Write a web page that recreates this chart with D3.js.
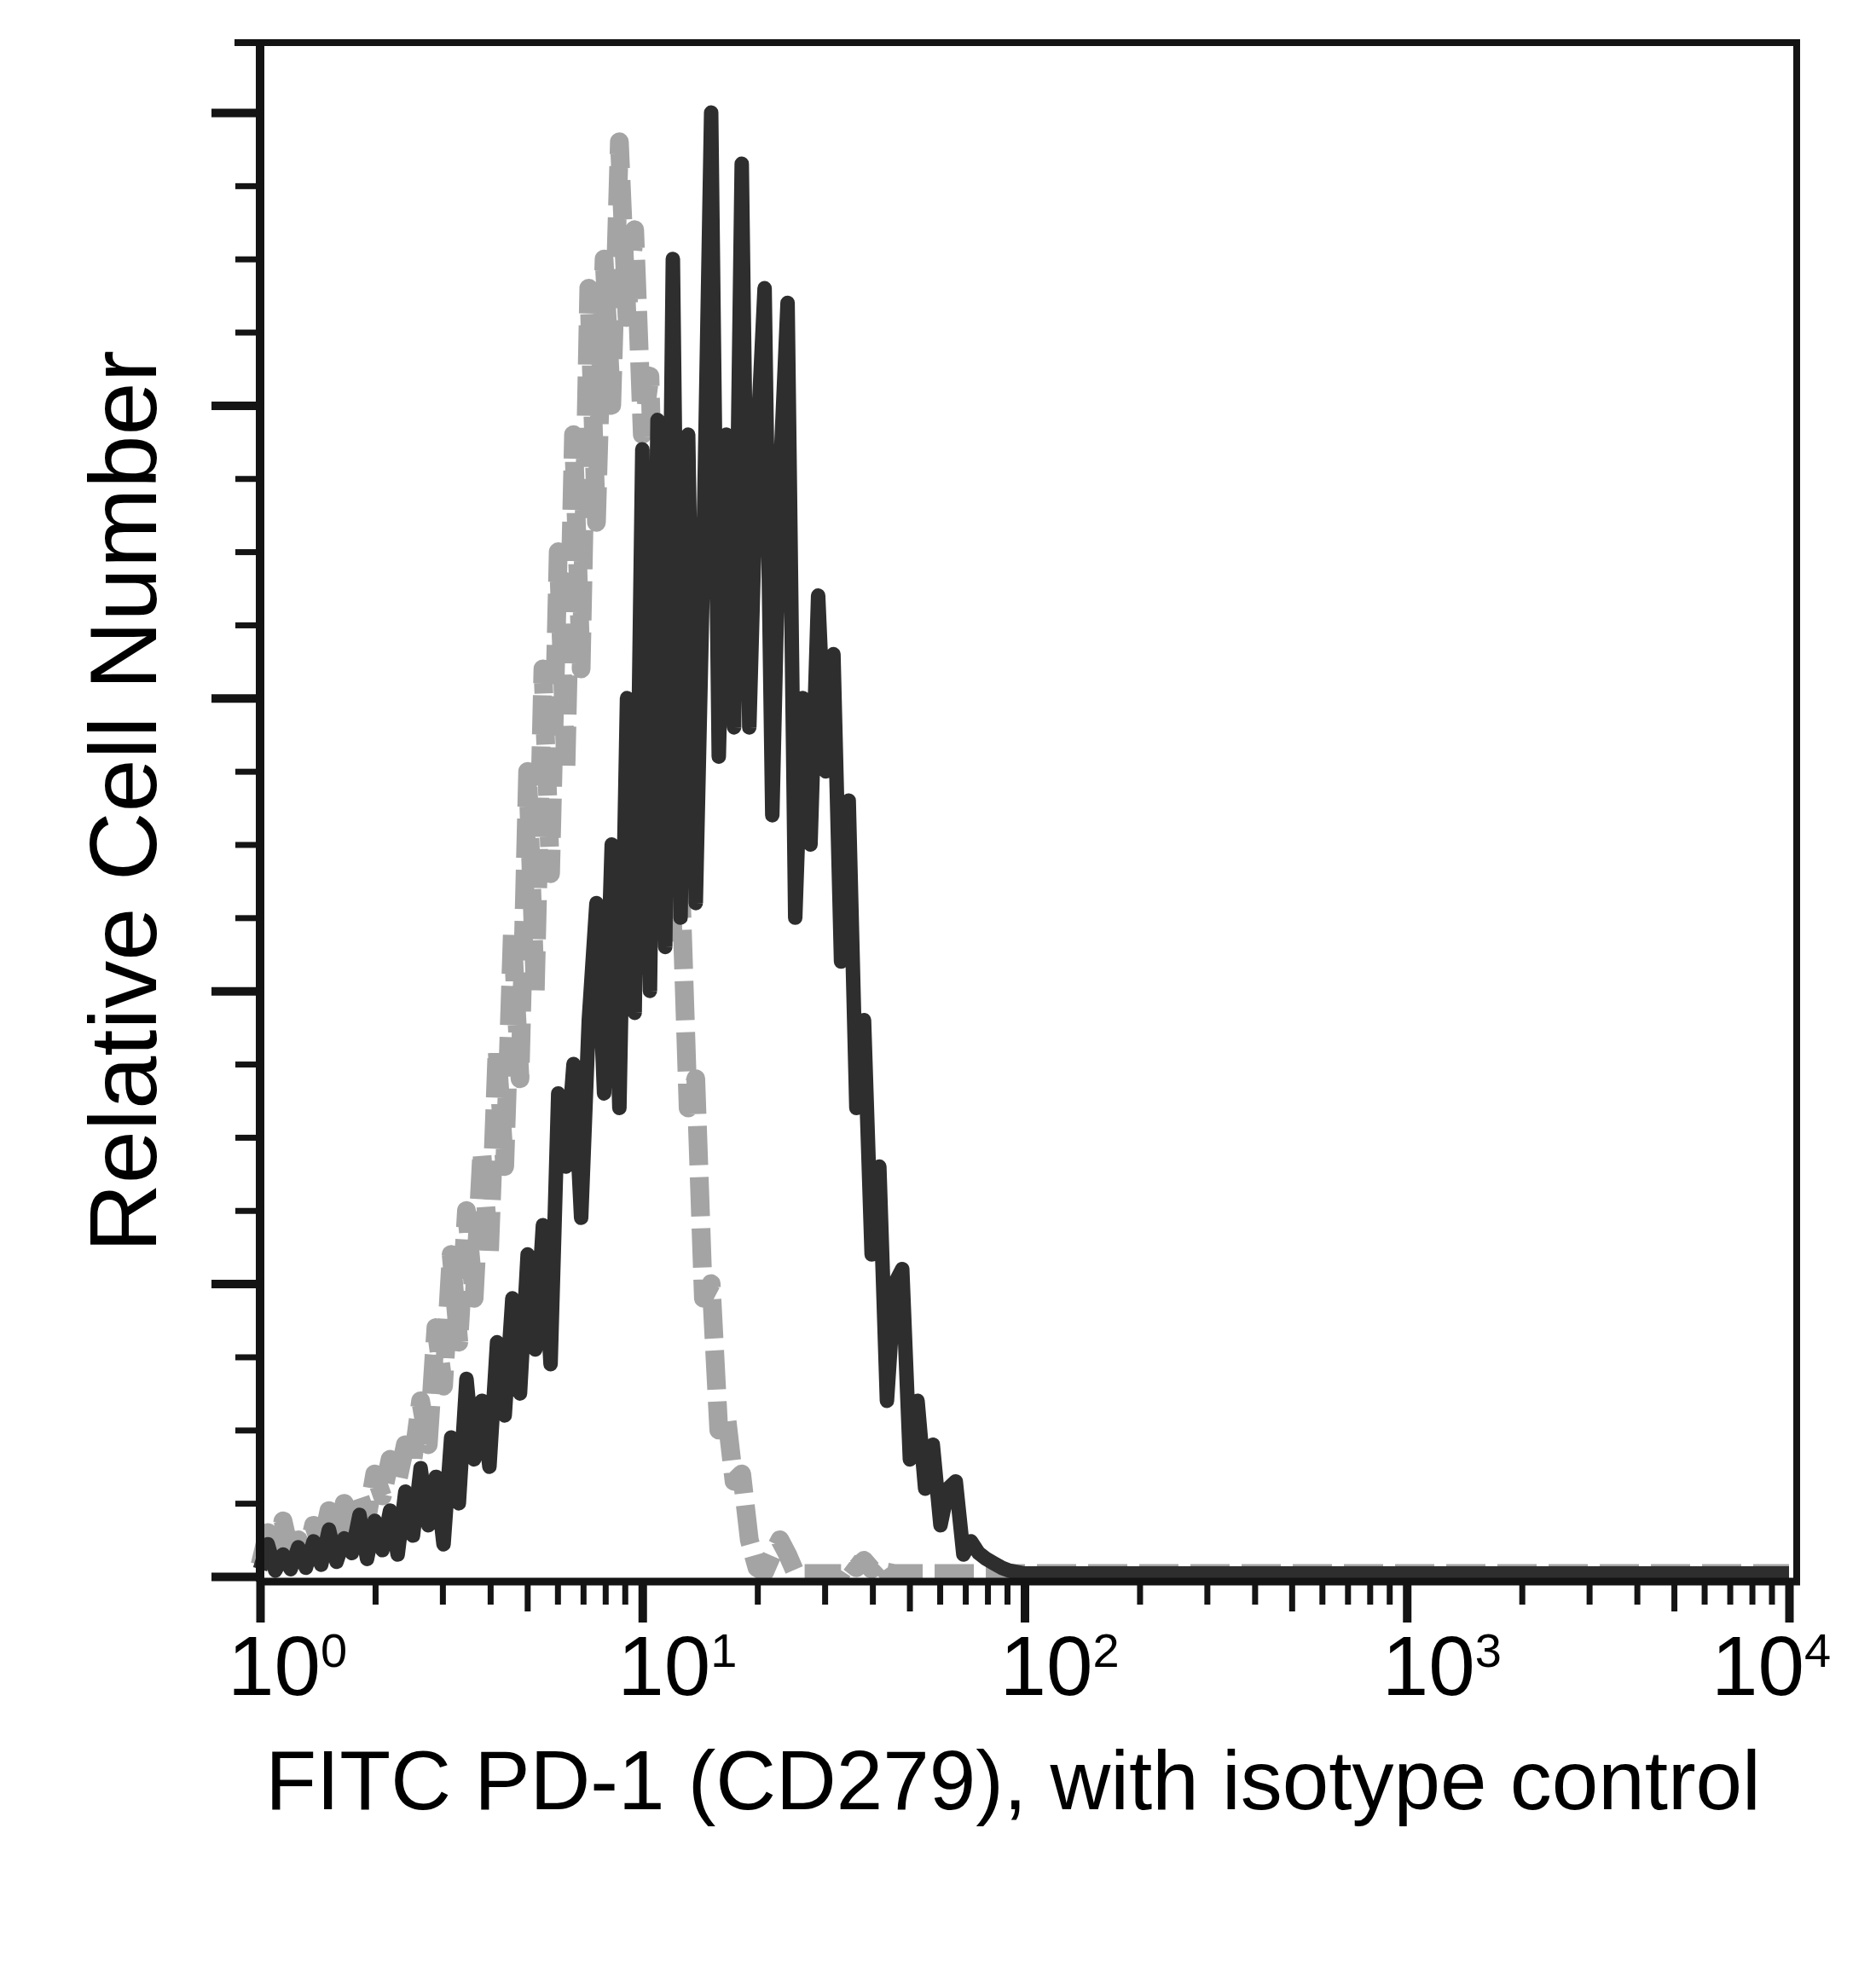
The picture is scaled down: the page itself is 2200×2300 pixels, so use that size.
<!DOCTYPE html>
<html>
<head>
<meta charset="utf-8">
<script src="https://cdn.jsdelivr.net/npm/d3@7"></script>
<style>
    body { margin: 0; background: #fff; }
    text { font-family: 'Liberation Sans', Arial, Helvetica, sans-serif; fill: #000; }
</style>
</head>
<body>
<svg id="chart" width="2200" height="2300"></svg>
<script>
// fluorescence intensity (channel centres, log spaced) shared by both histograms
var intensity = [
    1, 1.047, 1.096, 1.148, 1.202, 1.259, 1.318, 1.380, 1.445, 1.514,
    1.585, 1.660, 1.738, 1.820, 1.905, 1.995, 2.089, 2.188, 2.291, 2.399,
    2.512, 2.630, 2.754, 2.884, 3.020, 3.162, 3.311, 3.467, 3.631, 3.802,
    3.981, 4.169, 4.365, 4.571, 4.786, 5.012, 5.248, 5.495, 5.754, 6.026,
    6.310, 6.607, 6.918, 7.244, 7.586, 7.943, 8.318, 8.710, 9.120, 9.550,
    10, 10.47, 10.96, 11.48, 12.02, 12.59, 13.18, 13.80, 14.45, 15.14,
    15.85, 16.60, 17.38, 18.20, 19.05, 19.95, 20.89, 21.88, 22.91, 23.99,
    25.12, 26.30, 27.54, 28.84, 30.20, 31.62, 33.11, 34.67, 36.31, 38.02,
    39.81, 41.69, 43.65, 45.71, 47.86, 50.12, 52.48, 54.95, 57.54, 60.26,
    63.10, 66.07, 69.18, 72.44, 75.86, 79.43, 83.18, 87.10, 91.20, 95.50,
    100, 10000
];

// PD-1 (CD279) stained cells, relative counts
var pd1Counts = [
    0.5, 2.2, 0.4, 1.5, 0.5, 2.0, 0.6, 2.4, 0.8, 3.2,
    1.0, 2.6, 1.6, 4.2, 1.2, 3.8, 1.8, 4.5, 1.5, 5.8,
    2.8, 7.4, 3.5, 6.8, 2.2, 9.5, 5.0, 13.5, 8.0, 12.0,
    7.5, 16.0, 11.0, 19.0, 12.5, 22.0, 15.5, 24.0, 14.5, 33.0,
    28.0, 35.0, 24.5, 38.0, 46.0, 33.0, 50.0, 32.0, 60.0, 38.5,
    77.0, 40.0, 79.0, 43.0, 90.0, 45.0, 78.0, 46.0, 70.0, 100.0,
    56.0, 78.0, 58.0, 96.5, 58.0, 77.0, 88.0, 52.0, 75.0, 87.0,
    45.0, 60.0, 50.0, 67.0, 55.0, 63.0, 42.0, 53.0, 32.0, 38.0,
    22.0, 28.0, 12.0, 20.0, 21.0, 8.0, 12.0, 6.0, 9.0, 3.5,
    6.0, 6.5, 1.5, 2.4, 1.6, 1.2, 0.9, 0.6, 0.4, 0.3,
    0.2, 0.2
];

// isotype control, relative counts
var isotypeCounts = [
    0.8, 3.0, 1.0, 3.8, 1.5, 2.5, 1.2, 3.5, 2.0, 4.5,
    2.5, 5.0, 3.0, 5.5, 4.0, 7.0, 5.5, 8.0, 6.5, 9.0,
    8.0, 12.0, 9.0, 17.0, 13.0, 22.0, 16.0, 25.0, 19.0, 29.0,
    22.0, 36.0, 28.0, 44.0, 34.0, 55.0, 40.0, 62.0, 48.0, 70.0,
    55.0, 78.0, 62.0, 88.0, 72.0, 90.0, 80.0, 98.0, 86.0, 92.0,
    78.0, 82.0, 62.0, 66.0, 44.0, 48.0, 32.0, 34.0, 19.0, 20.0,
    10.0, 11.0, 6.5, 7.0, 2.5, 0.6, 0.3, 1.5, 2.5, 1.5,
    0.3, 0.2, 0.2, 0.2, 0.2, 0.2, 0.2, 1.0, 0.6, 1.1,
    0.5, 1.0, 0.3, 0.2, 0.2, 0.2, 0.2, 0.2, 0.2, 0.2,
    0.2, 0.2, 0.2, 0.2, 0.2, 0.2, 0.2, 0.2, 0.2, 0.2,
    0.2, 0.2
];

var xMajorTicks = [1, 10, 100, 1000, 10000];
var xMidTicks = [5, 50, 500, 5000];
var xMinorTicks = [2, 3, 4, 6, 7, 8, 9, 20, 30, 40, 60, 70, 80, 90,
    200, 300, 400, 600, 700, 800, 900, 2000, 3000, 4000, 6000, 7000, 8000, 9000];
var xTickExponents = ['0', '1', '2', '3', '4'];
var yMajorTicks = [0, 20, 40, 60, 80, 100];
var yMinorTicks = [5, 10, 15, 25, 30, 35, 45, 50, 55, 65, 70, 75, 85, 90, 95];

var xTitle = 'FITC PD-1 (CD279), with isotype control';
var yTitle = 'Relative Cell Number';

var svg = d3.select('#chart');
var axisColor = '#141414';

var x = d3.scaleLog().domain([1, 10000]).range([305, 2098]);
var y = d3.scaleLinear().domain([0, 100]).range([1849, 132]);

var frame = {left: 305, right: 2107, top: 50, bottom: 1855};

svg.append('rect').attr('width', 2200).attr('height', 2300).attr('fill', '#fff');

// histograms
function toPoints(counts) {
    return intensity.map(function (v, i) { return [v, counts[i]]; });
}

var line = d3.line()
    .x(function (d) { return x(d[0]); })
    .y(function (d) { return y(d[1]); });

svg.append('path')
    .datum(toPoints(isotypeCounts))
    .attr('fill', 'none')
    .attr('stroke', '#a4a4a4')
    .attr('stroke-width', 22)
    .attr('stroke-linejoin', 'round')
    .attr('stroke-dasharray', '46 14')
    .attr('d', line);

svg.append('path')
    .datum(toPoints(pd1Counts))
    .attr('fill', 'none')
    .attr('stroke', '#2e2e2e')
    .attr('stroke-width', 17)
    .attr('stroke-linejoin', 'round')
    .attr('d', line);

// frame
svg.append('line').attr('x1', 275).attr('x2', frame.right + 4)
    .attr('y1', frame.top).attr('y2', frame.top)
    .attr('stroke', axisColor).attr('stroke-width', 8);
svg.append('line').attr('x1', frame.right).attr('x2', frame.right)
    .attr('y1', frame.top).attr('y2', frame.bottom)
    .attr('stroke', axisColor).attr('stroke-width', 8);
svg.append('line').attr('x1', frame.left).attr('x2', frame.right + 4)
    .attr('y1', frame.bottom).attr('y2', frame.bottom)
    .attr('stroke', axisColor).attr('stroke-width', 9);
svg.append('line').attr('x1', frame.left).attr('x2', frame.left)
    .attr('y1', frame.top).attr('y2', frame.bottom)
    .attr('stroke', axisColor).attr('stroke-width', 10);

// x ticks
function xTicks(values, size, width) {
    var g = svg.append('g')
        .attr('transform', 'translate(0,' + frame.bottom + ')')
        .call(d3.axisBottom(x).tickValues(values).tickSize(size).tickFormat(''));
    g.select('.domain').remove();
    g.selectAll('line').attr('stroke', axisColor).attr('stroke-width', width);
}
xTicks(xMinorTicks, 27, 7);
xTicks(xMidTicks, 35, 7);
xTicks(xMajorTicks, 48, 10);

// y ticks
function yTicks(values, size, width) {
    var g = svg.append('g')
        .attr('transform', 'translate(' + frame.left + ',0)')
        .call(d3.axisLeft(y).tickValues(values).tickSize(size).tickFormat(''));
    g.select('.domain').remove();
    g.selectAll('line').attr('stroke', axisColor).attr('stroke-width', width);
}
yTicks(yMinorTicks, 29, 7);
yTicks(yMajorTicks, 57, 10);

// decade labels 10^n
xMajorTicks.forEach(function (v, i) {
    var dx = i === xMajorTicks.length - 1 ? -91 : (i === 0 ? -38 : -29);
    var t = svg.append('text')
        .attr('x', x(v) + dx)
        .attr('y', 1988)
        .attr('font-size', 98);
    t.append('tspan').text('10');
    t.append('tspan').attr('dy', -33).attr('font-size', 56).text(xTickExponents[i]);
});

// axis titles
svg.append('text')
    .attr('x', 1188)
    .attr('y', 2122)
    .attr('text-anchor', 'middle')
    .attr('font-size', 98)
    .text(xTitle);

svg.append('text')
    .attr('transform', 'translate(183,940) rotate(-90)')
    .attr('text-anchor', 'middle')
    .attr('font-size', 112)
    .text(yTitle);
</script>
</body>
</html>
